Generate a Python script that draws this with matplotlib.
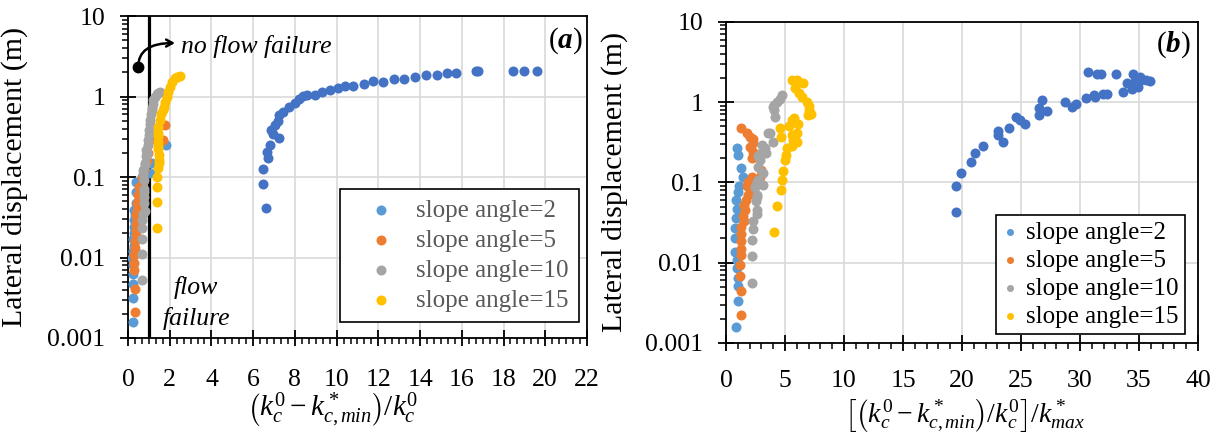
import numpy as np
import matplotlib.pyplot as plt
from matplotlib.ticker import MultipleLocator, LogLocator, FixedLocator, FixedFormatter, NullFormatter

plt.rcParams['font.family'] = 'Liberation Serif'
plt.rcParams['mathtext.fontset'] = 'custom'
plt.rcParams['mathtext.rm'] = 'Liberation Serif'
plt.rcParams['mathtext.it'] = 'Liberation Serif:italic'
plt.rcParams['mathtext.bf'] = 'Liberation Serif:italic:bold'

# ---------------- panel (a): (k0 - k*min)/k0 ----------------
xa_0 = [6.62, 6.49, 6.49, 6.73, 6.68, 6.81, 6.86, 6.97, 7.24, 7.05, 7.17, 7.24, 7.45, 7.73,
        8.01, 8.21, 8.41, 8.57, 8.96, 9.28, 9.68, 10.08, 10.40, 10.80, 11.31, 11.73, 12.24,
        12.75, 13.25, 13.76, 14.29, 14.80, 15.28, 15.72, 16.68, 16.79, 18.47, 18.98, 19.59]
ya_0 = [0.041, 0.081, 0.126, 0.171, 0.206, 0.25, 0.384, 0.342, 0.302, 0.443, 0.497, 0.589, 0.648, 0.733,
        0.822, 0.922, 1.01, 1.06, 1.05, 1.15, 1.2, 1.28, 1.36, 1.36, 1.44, 1.55, 1.53,
        1.64, 1.64, 1.76, 1.85, 1.87, 1.98, 1.98, 2.09, 2.09, 2.09, 2.09, 2.09]

xa_2 = [0.25, 0.25, 0.22, 0.25, 0.25, 0.2, 0.25, 0.3, 0.25, 0.3, 0.28, 0.3, 0.35, 0.3, 0.38, 0.4, 0.38,
        1.05, 1.14, 1.82]
ya_2 = [0.0016, 0.0031, 0.0047, 0.0062, 0.0081, 0.0099, 0.012, 0.014, 0.017, 0.02, 0.024, 0.029, 0.034,
        0.039, 0.047, 0.066, 0.087, 0.111, 0.148, 0.25]

xa_5 = [0.34, 0.34, 0.3, 0.3, 0.3, 0.34, 0.35, 0.38, 0.36, 0.4, 0.42, 0.38, 0.45, 0.5, 0.42, 0.55, 0.48,
        0.6, 0.55, 0.7, 0.66, 0.75, 0.89, 0.95, 1.2, 1.69, 1.77]
ya_5 = [0.0021, 0.0041, 0.007, 0.0085, 0.0107, 0.013, 0.016, 0.019, 0.022, 0.026, 0.03, 0.034, 0.038,
        0.043, 0.047, 0.052, 0.06, 0.068, 0.076, 0.087, 0.1, 0.122, 0.16, 0.2, 0.3, 0.29, 0.44]

xa_10 = [0.66, 0.66, 0.66, 0.66, 0.66, 0.7, 0.82, 0.78, 0.78, 0.75, 0.78, 0.75, 0.73, 0.73, 0.82, 0.8,
         0.86, 0.9, 0.86, 0.95, 0.98, 1.0, 1.02, 1.05, 1.05, 1.1, 1.14, 1.15, 1.18, 1.21, 1.3, 1.37,
         1.45, 1.53]
ya_10 = [0.0052, 0.011, 0.017, 0.023, 0.029, 0.035, 0.038, 0.047, 0.057, 0.065, 0.072, 0.093, 0.11,
         0.122, 0.14, 0.15, 0.18, 0.2, 0.216, 0.25, 0.29, 0.33, 0.38, 0.45, 0.51, 0.6, 0.68, 0.72,
         0.8, 0.91, 1.0, 1.08, 1.12, 1.15]

xa_15 = [1.41, 1.41, 1.41, 1.41, 1.45, 1.5, 1.5, 1.5, 1.45, 1.45, 1.45, 1.42, 1.42, 1.45, 1.53, 1.6,
         1.69, 1.73, 1.77, 1.85, 1.93, 2.01, 2.09, 2.25, 2.35, 2.49]
ya_15 = [0.023, 0.049, 0.076, 0.1, 0.13, 0.148, 0.163, 0.19, 0.22, 0.24, 0.275, 0.32, 0.35, 0.42, 0.51,
         0.6, 0.68, 0.75, 0.86, 1.0, 1.15, 1.32, 1.53, 1.68, 1.76, 1.8]

# ---------------- panel (b): [(k0 - k*min)/k0]/k*max ----------------
xb_0 = [19.49, 19.49, 19.89, 20.76, 21.1, 21.8, 23.45, 23.08, 23.08, 24.0, 24.58, 24.9, 25.3, 26.55,
        26.55, 26.75, 27.2, 28.7, 29.3, 29.66, 30.5, 31.2, 31.3, 31.97, 32.26, 33.6, 34.4, 34.94,
        33.96, 34.7, 34.9, 35.2, 35.6, 35.9, 35.1, 34.5, 33.05, 31.8, 31.4, 30.7]
yb_0 = [0.0426, 0.091, 0.132, 0.181, 0.234, 0.281, 0.321, 0.389, 0.44, 0.47, 0.645, 0.597, 0.527, 0.689,
        0.834, 1.06, 0.773, 1.0, 0.875, 0.935, 1.11, 1.21, 1.16, 1.26, 1.27, 1.34, 1.44, 1.52,
        1.74, 1.84, 1.84, 1.88, 1.88, 1.84, 2.07, 2.23, 2.23, 2.23, 2.23, 2.38]

xb_2 = [0.85, 1.05, 1.05, 1.0, 0.95, 0.9, 0.76, 0.76, 0.8, 0.85, 0.9, 0.85, 1.0, 1.1, 1.41, 1.24,
        1.05, 0.96]
yb_2 = [0.0016, 0.0033, 0.0051, 0.0064, 0.0085, 0.0107, 0.0137, 0.02, 0.027, 0.036, 0.046, 0.06,
        0.075, 0.09, 0.117, 0.149, 0.219, 0.265]

xb_5 = [1.24, 1.24, 1.2, 1.2, 1.24, 1.3, 1.3, 1.3, 1.24, 1.5, 1.4, 1.6, 1.5, 1.7, 1.9, 2.0, 1.8, 1.85,
        2.17, 2.88, 3.0, 2.2, 2.26, 2.03, 2.3, 2.31, 2.06, 1.75, 1.24]
yb_5 = [0.0022, 0.0045, 0.0068, 0.0093, 0.0124, 0.0147, 0.0186, 0.023, 0.028, 0.033, 0.038, 0.045,
        0.052, 0.06, 0.07, 0.08, 0.09, 0.1, 0.117, 0.118, 0.142, 0.2, 0.24, 0.277, 0.305, 0.343, 0.37,
        0.407, 0.47]

xb_10 = [2.17, 2.17, 2.17, 2.31, 2.31, 2.6, 2.6, 2.55, 2.6, 2.6, 2.46, 2.6, 3.1, 2.74, 3.16, 2.7,
         2.88, 2.74, 3.0, 3.4, 3.3, 3.05, 4.0, 3.73, 3.58, 4.15, 4.07, 4.0, 4.05, 4.3, 4.58, 4.77]
yb_10 = [0.0056, 0.012, 0.019, 0.026, 0.033, 0.04, 0.045, 0.058, 0.066, 0.07, 0.088, 0.1, 0.092, 0.108,
         0.13, 0.156, 0.19, 0.21, 0.23, 0.23, 0.27, 0.29, 0.32, 0.41, 0.41, 0.66, 0.79, 0.87, 0.91,
         1.0, 1.1, 1.23]

xb_15 = [4.07, 4.3, 4.66, 4.72, 4.86, 5.0, 5.05, 5.2, 5.57, 5.65, 6.0, 6.0, 5.57, 4.58, 4.63, 5.37,
         5.57, 5.8, 6.13, 5.57, 6.0, 6.5, 5.87, 6.16, 6.44, 6.84, 7.06, 7.06, 7.18, 6.98]
yb_15 = [0.0243, 0.051, 0.08, 0.107, 0.14, 0.19, 0.22, 0.266, 0.28, 0.335, 0.32, 0.41, 0.39, 0.47,
         0.37, 0.5, 0.6, 0.63, 0.53, 1.88, 1.88, 1.75, 1.49, 1.3, 1.17, 1.01, 0.89, 0.8, 0.71, 0.69]

labels = ['slope angle=2', 'slope angle=5', 'slope angle=10', 'slope angle=15']
colors = ['#5B9BD5', '#ED7D31', '#A5A5A5', '#FFC000']
dark_blue = '#4472C4'

yticks = [0.001, 0.01, 0.1, 1, 10]
ytick_labels = ['0.001', '0.01', '0.1', '1', '10']

msize = 52


def style_axes(ax, xmax, xmajor, xminor, xpad):
    ax.set_yscale('log')
    ax.set_ylim(0.001, 10)
    ax.set_xlim(0, xmax)
    ax.xaxis.set_major_locator(MultipleLocator(xmajor))
    ax.xaxis.set_minor_locator(MultipleLocator(xminor))
    ax.yaxis.set_major_locator(FixedLocator(yticks))
    ax.yaxis.set_major_formatter(FixedFormatter(ytick_labels))
    ax.yaxis.set_minor_locator(LogLocator(base=10, subs=np.arange(2, 10), numticks=20))
    ax.yaxis.set_minor_formatter(NullFormatter())
    ax.grid(True, which='major', color='#D9D9D9', lw=1.2)
    ax.set_axisbelow(True)
    ax.tick_params(which='major', direction='inout', length=11, width=1.3, labelsize=18.5)
    ax.tick_params(which='minor', direction='out', length=4.5, width=1.1)
    ax.tick_params(axis='x', which='major', pad=xpad)
    ax.tick_params(axis='y', which='major', pad=11)
    for s in ax.spines.values():
        s.set_linewidth(1.3)
        s.set_color('black')


fig = plt.figure(figsize=(12.19, 4.34), dpi=100)
ax1 = fig.add_axes([0.105, 0.2212, 0.3765, 0.7418])
ax2 = fig.add_axes([0.5956, 0.2097, 0.3872, 0.7403])

style_axes(ax1, 22, 2, 2 / 6, 17)
style_axes(ax2, 40, 5, 1, 14)

# scatter series
ax1.scatter(xa_0, ya_0, s=msize, color=dark_blue, lw=0, zorder=3)
ax2.scatter(xb_0, yb_0, s=msize, color=dark_blue, lw=0, zorder=3)
for xs, ys, c, lab in zip([xa_2, xa_5, xa_10, xa_15], [ya_2, ya_5, ya_10, ya_15], colors, labels):
    ax1.scatter(xs, ys, s=msize, color=c, lw=0, zorder=3, label=lab)
for xs, ys, c, lab in zip([xb_2, xb_5, xb_10, xb_15], [yb_2, yb_5, yb_10, yb_15], colors, labels):
    ax2.scatter(xs, ys, s=msize, color=c, lw=0, zorder=3, label=lab)

# flow failure boundary
ax1.axvline(1, color='black', lw=2.3, zorder=2.5)
ax1.plot([0.49], [2.34], 'o', color='black', ms=7.5, zorder=5)
ax1.annotate('', xy=(2.25, 4.62), xytext=(0.49, 2.34),
             arrowprops=dict(arrowstyle='->,head_length=0.45,head_width=0.25', color='black', lw=1.8,
                             connectionstyle='angle3,angleA=90,angleB=0', shrinkA=0, shrinkB=0),
             zorder=5)
ax1.text(2.53, 4.24, 'no flow failure', style='italic', fontsize=18.5, va='center', ha='left')
ax1.text(3.26, 0.0043, 'flow', style='italic', fontsize=18.5, va='center', ha='center')
ax1.text(3.26, 0.00177, 'failure', style='italic', fontsize=18.5, va='center', ha='center')

ax1.text(0.991, 0.925, r'$(\mathbf{a})$', transform=ax1.transAxes, fontsize=21, ha='right', va='center')
ax2.text(0.985, 0.927, r'$(\mathbf{b})$', transform=ax2.transAxes, fontsize=21, ha='right', va='center')

# axis labels
for ax, xc in [(ax1, -0.218), (ax2, -0.2076)]:
    ax.set_ylabel('Lateral displacement (m)', fontsize=21.5)
    ax.yaxis.set_label_coords(xc, 0.5)
ax1.set_xlabel(r'$\left(k_c^0-k_{c,min}^*\right)/k_c^0$', fontsize=21)
ax1.xaxis.set_label_coords(0.445, -0.225)
ax1.xaxis.label.set_va('center')
ax2.set_xlabel(r'$\left[\left(k_c^0-k_{c,min}^*\right)/k_c^0\right]/k_{max}^*$', fontsize=20)
ax2.xaxis.set_label_coords(0.506, -0.226)
ax2.xaxis.label.set_va('center')

# legends
leg1 = ax1.legend(loc='lower right', bbox_to_anchor=(0.9826, 0.0497), borderaxespad=0, fontsize=18,
                  handlelength=2.5, handletextpad=0.15, borderpad=0.4, labelspacing=0.3,
                  fancybox=False, framealpha=1, edgecolor='black', labelcolor='#595959')
leg1.get_frame().set_linewidth(1.2)
leg2 = ax2.legend(loc='lower right', bbox_to_anchor=(0.9725, 0.028), borderaxespad=0, fontsize=18,
                  handlelength=0.6, handletextpad=0.35, borderpad=0.25, labelspacing=0.22,
                  markerscale=0.7, fancybox=False, framealpha=1, edgecolor='black')
leg2.get_frame().set_linewidth(1.2)

fig.savefig('out.png', dpi=100)
